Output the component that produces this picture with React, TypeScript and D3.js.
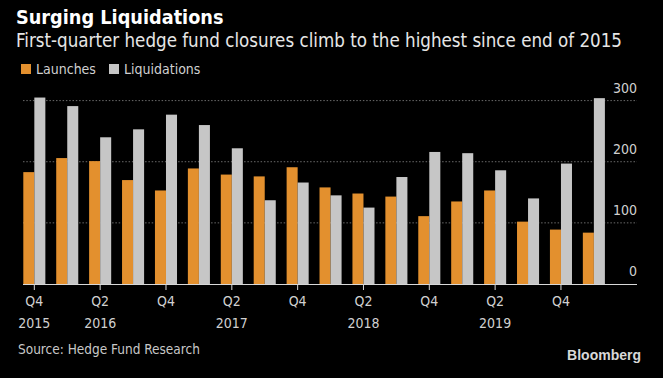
import React from "react";
import * as d3 from "d3";

const quarters = [
  "Q4 2015", "Q1 2016", "Q2 2016", "Q3 2016", "Q4 2016",
  "Q1 2017", "Q2 2017", "Q3 2017", "Q4 2017",
  "Q1 2018", "Q2 2018", "Q3 2018", "Q4 2018",
  "Q1 2019", "Q2 2019", "Q3 2019", "Q4 2019", "Q1 2020",
];
const launches = [183, 206, 201, 170, 153, 189, 179, 176, 191, 158, 148, 143, 111, 135, 153, 102, 89, 84];
const liquidations = [305, 291, 240, 253, 277, 260, 222, 137, 166, 145, 125, 175, 216, 214, 186, 140, 197, 304];
const yTicks = [0, 100, 200, 300];
const xTickLabels: { q: string; top: string; bottom: string }[] = [
  { q: "Q4 2015", top: "Q4", bottom: "2015" },
  { q: "Q2 2016", top: "Q2", bottom: "2016" },
  { q: "Q4 2016", top: "Q4", bottom: "" },
  { q: "Q2 2017", top: "Q2", bottom: "2017" },
  { q: "Q4 2017", top: "Q4", bottom: "" },
  { q: "Q2 2018", top: "Q2", bottom: "2018" },
  { q: "Q4 2018", top: "Q4", bottom: "" },
  { q: "Q2 2019", top: "Q2", bottom: "2019" },
  { q: "Q4 2019", top: "Q4", bottom: "" },
];
const seriesNames = ["Launches", "Liquidations"];

const W = 663;
const H = 378;
const ORANGE = "#e3902e";
const GRAY = "#c6c6c6";
const FONT = "'DejaVu Sans Condensed', 'Liberation Sans Narrow', 'Liberation Sans', sans-serif";

export default function App() {
  const x = d3.scaleBand<string>().domain(quarters).range([23.3, 604.9]).paddingInner(0.33).paddingOuter(0);
  const sub = d3.scaleBand<string>().domain(seriesNames).range([0, x.bandwidth()]).padding(0);
  const y = d3.scaleLinear().domain([0, 300]).range([284, 100.6]);
  const gridX0 = 23;
  const gridX1 = 637;

  return (
    <svg width={W} height={H} style={{ position: "absolute", left: 0, top: 0, background: "#000" }}>
      <rect x={0} y={0} width={W} height={H} fill="#000" />
      <text x={16} y={24} fill="#fff" fontFamily={FONT} fontWeight="bold" fontSize={19.7}>
        Surging Liquidations
      </text>
      <text x={16} y={47} fill="#e6e6e6" fontFamily={FONT} fontSize={18.6}>
        First-quarter hedge fund closures climb to the highest since end of 2015
      </text>
      {/* legend */}
      <rect x={21} y={64} width={10} height={10} fill={ORANGE} />
      <text x={36} y={74} fill="#d0d0d0" fontFamily={FONT} fontSize={14}>Launches</text>
      <rect x={109} y={64} width={10} height={10} fill={GRAY} />
      <text x={124} y={74} fill="#d0d0d0" fontFamily={FONT} fontSize={14}>Liquidations</text>

      {/* gridlines */}
      {yTicks.filter((t) => t > 0).map((t) => (
        <line key={t} x1={gridX0} x2={gridX1} y1={y(t)} y2={y(t)} stroke="#6a6a6a" strokeWidth={1} strokeDasharray="1.5,1.8" />
      ))}
      {yTicks.map((t) => (
        <text key={"l" + t} x={637} y={y(t) - 8} textAnchor="end" fill="#d0d0d0" fontFamily={FONT} fontSize={14}>
          {t}
        </text>
      ))}

      {/* bars */}
      {quarters.map((q, i) => (
        <g key={q} transform={`translate(${x(q)},0)`}>
          <rect x={sub("Launches")} y={y(launches[i])} width={sub.bandwidth()} height={y(0) - y(launches[i])} fill={ORANGE} />
          <rect x={sub("Liquidations")} y={y(liquidations[i])} width={sub.bandwidth()} height={y(0) - y(liquidations[i])} fill={GRAY} />
        </g>
      ))}

      {/* baseline */}
      <line x1={gridX0} x2={gridX1} y1={y(0) + 0.5} y2={y(0) + 0.5} stroke="#d8d8d8" strokeWidth={1} />

      {/* x ticks */}
      {xTickLabels.map((t) => {
        const cx = (x(t.q) as number) + x.bandwidth() / 2;
        return (
          <g key={t.q}>
            <line x1={cx} x2={cx} y1={y(0)} y2={y(0) + 6} stroke="#d8d8d8" strokeWidth={1} />
            <text x={cx} y={306} textAnchor="middle" fill="#d0d0d0" fontFamily={FONT} fontSize={14}>{t.top}</text>
            {t.bottom && (
              <text x={cx} y={328} textAnchor="middle" fill="#d0d0d0" fontFamily={FONT} fontSize={14}>{t.bottom}</text>
            )}
          </g>
        );
      })}

      <text x={18} y={354} fill="#c8c8c8" fontFamily={FONT} fontSize={13.5}>Source: Hedge Fund Research</text>
      <text x={641} y={360} textAnchor="end" fill="#d8d8d8" fontFamily="'Liberation Sans Narrow', 'Liberation Sans', Arial, sans-serif" fontWeight="bold" fontSize={14}>
        Bloomberg
      </text>
    </svg>
  );
}
